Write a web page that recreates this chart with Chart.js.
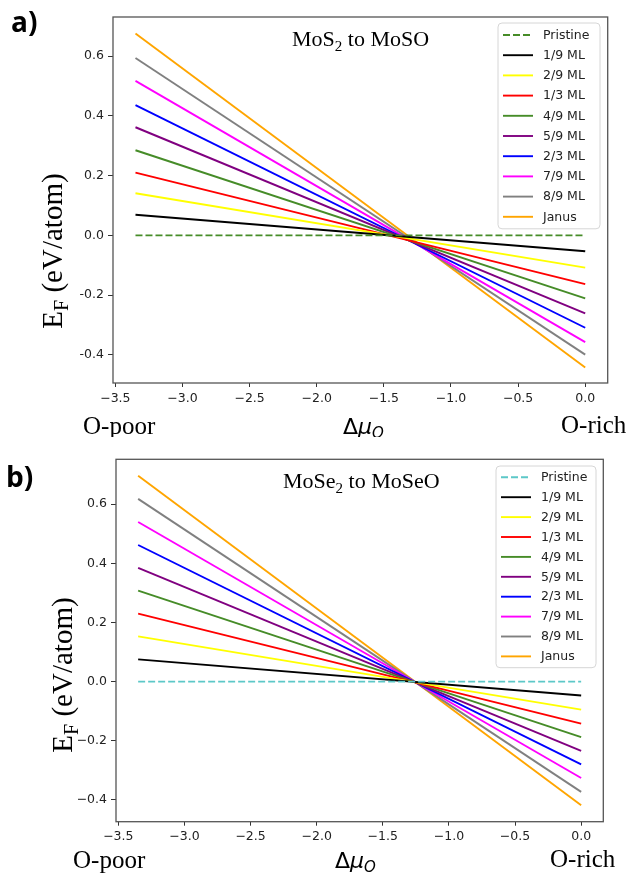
<!DOCTYPE html>
<html><head><meta charset="utf-8">
<script src="https://cdn.jsdelivr.net/npm/chart.js@4.4.1/dist/chart.umd.min.js"></script>
<style>
html,body{margin:0;padding:0;background:#fff;width:630px;height:874px;overflow:hidden}
canvas{position:absolute;left:0}
#ca{top:0}
#cb{top:437px}
</style></head><body>
<canvas id="ca" width="630" height="437"></canvas>
<canvas id="cb" width="630" height="437"></canvas>
<script>
// ---- data ----
const xValues = [-3.35, 0];
const seriesLabels = ['Pristine','1/9 ML','2/9 ML','1/3 ML','4/9 ML','5/9 ML','2/3 ML','7/9 ML','8/9 ML','Janus'];
const mos2Start  = [0, 0.069, 0.141, 0.210, 0.285, 0.362, 0.436, 0.517, 0.594, 0.676];
const mos2End    = [0, -0.053, -0.108, -0.163, -0.211, -0.261, -0.309, -0.357, -0.399, -0.442];
const mose2Start = [0, 0.075, 0.153, 0.230, 0.308, 0.385, 0.462, 0.540, 0.618, 0.696];
const mose2End   = [0, -0.047, -0.095, -0.142, -0.188, -0.234, -0.280, -0.326, -0.373, -0.418];
const xTicks = [-3.5, -3.0, -2.5, -2.0, -1.5, -1.0, -0.5, 0.0];
const xTickLabels = ['−3.5','−3.0','−2.5','−2.0','−1.5','−1.0','−0.5','0.0'];
const yTicks = [-0.4, -0.2, 0.0, 0.2, 0.4, 0.6];
const yTickLabelsA = ['-0.4','-0.2','0.0','0.2','0.4','0.6'];
const yTickLabelsB = ['−0.4','−0.2','0.0','0.2','0.4','0.6'];
const colorsA = ['#468c28','#000000','#ffff00','#ff0000','#468c28','#800080','#0000ff','#ff00ff','#808080','#ffa500'];
const colorsB = ['#5cc8c8','#000000','#ffff00','#ff0000','#468c28','#800080','#0000ff','#ff00ff','#808080','#ffa500'];

const SERIF = '"Liberation Serif", "DejaVu Serif", serif';
const SANS = '"DejaVu Sans", sans-serif';

function drawParts(ctx, parts, x, y, align) {
  let w = 0;
  parts.forEach(p => { ctx.font = p.f; p.w = ctx.measureText(p.t).width; w += p.w; });
  let cx = align === 'center' ? x - w / 2 : x;
  parts.forEach(p => { ctx.font = p.f; ctx.fillText(p.t, cx, y + (p.dy || 0)); cx += p.w; });
}

const decorPlugin = {
  id: 'decor',
  afterDatasetsDraw(chart, args, o) {
    const ctx = chart.ctx, ca = chart.chartArea;
    ctx.save();
    // frame
    ctx.strokeStyle = '#555'; ctx.lineWidth = 1.3; ctx.setLineDash([]);
    ctx.strokeRect(ca.left, ca.top, ca.right - ca.left, ca.bottom - ca.top);
    // legend
    const ds = chart.data.datasets;
    const bx = ca.right - o.legRight - o.legW, by = ca.top + o.legTop;
    const bh = o.legPad * 2 + (ds.length - 1) * o.legSp;
    ctx.beginPath();
    if (ctx.roundRect) ctx.roundRect(bx, by, o.legW, bh, 4); else ctx.rect(bx, by, o.legW, bh);
    ctx.fillStyle = 'rgba(255,255,255,0.85)'; ctx.fill();
    ctx.strokeStyle = '#d6d6d6'; ctx.lineWidth = 1; ctx.stroke();
    ctx.font = '12.5px ' + SANS; ctx.textBaseline = 'middle'; ctx.textAlign = 'left';
    ds.forEach((d, i) => {
      const yy = by + o.legPad + i * o.legSp;
      ctx.beginPath();
      ctx.setLineDash(d.borderDash || []);
      ctx.strokeStyle = d.borderColor; ctx.lineWidth = d.borderWidth;
      ctx.moveTo(bx + 5, yy); ctx.lineTo(bx + 35, yy); ctx.stroke();
      ctx.setLineDash([]);
      ctx.fillStyle = '#222';
      ctx.fillText(d.label, bx + 45, yy + 0.5);
    });
    // texts
    ctx.fillStyle = '#000'; ctx.textBaseline = 'alphabetic'; ctx.textAlign = 'left';
    ctx.font = 'bold 28px "Open Sans", ' + SANS;
    ctx.fillText(o.letter, o.letterX, o.letterY);
    drawParts(ctx, [
      {t: o.titleA, f: '22px ' + SERIF},
      {t: '2', f: '15px ' + SERIF, dy: 5},
      {t: o.titleB, f: '22px ' + SERIF}
    ], o.titleX, o.titleY, 'left');
    // y label
    ctx.save();
    ctx.translate(o.ylabX, o.ylabY);
    ctx.rotate(-Math.PI / 2);
    drawParts(ctx, [
      {t: 'E', f: '29px ' + SERIF},
      {t: 'F', f: '20px ' + SERIF, dy: 6},
      {t: ' (eV/atom)', f: '29px ' + SERIF}
    ], 0, 0, 'center');
    ctx.restore();
    // x row labels
    ctx.font = '25px ' + SERIF;
    ctx.fillText('O-poor', o.poorX, o.rowY);
    ctx.fillText('O-rich', o.richX, o.rowY - 1);
    drawParts(ctx, [
      {t: 'Δ', f: '22px ' + SANS},
      {t: 'μ', f: 'italic 22px ' + SANS},
      {t: 'O', f: 'italic 15px ' + SANS, dy: 4}
    ], o.muX, o.rowY, 'left');
    ctx.restore();
  }
};

function makeChart(id, start, end, colors, yLabels, geo, deco) {
  const datasets = seriesLabels.map((lab, i) => ({
    label: lab,
    data: xValues.map((x, j) => ({x: x, y: j === 0 ? start[i] : end[i]})),
    borderColor: colors[i],
    backgroundColor: colors[i],
    borderWidth: 1.9,
    borderDash: i === 0 ? [7, 3] : [],
    pointRadius: 0,
    fill: false,
    tension: 0
  }));
  return new Chart(document.getElementById(id), {
    type: 'line',
    data: {datasets},
    plugins: [decorPlugin],
    options: {
      responsive: false, animation: false, events: [],
      layout: {padding: {left: 0, top: geo.top, right: geo.right, bottom: 0}},
      plugins: {legend: {display: false}, tooltip: {enabled: false}, decor: deco},
      scales: {
        x: {
          type: 'linear', min: -3.5175, max: 0.1675,
          grid: {display: true, drawOnChartArea: false, drawTicks: true, tickLength: 4, color: '#333', tickWidth: 1},
          border: {display: false},
          ticks: {font: {family: SANS, size: 12.5}, color: '#222', padding: 4, maxRotation: 0, autoSkip: false,
                  callback: (v) => { const k = xTicks.indexOf(v); return k >= 0 ? xTickLabels[k] : ''; }},
          afterBuildTicks: s => { s.ticks = xTicks.map(v => ({value: v})); },
          afterFit: s => { s.height = geo.xh; }
        },
        y: {
          type: 'linear', min: geo.ymin, max: geo.ymax,
          grid: {display: true, drawOnChartArea: false, drawTicks: true, tickLength: 5, color: '#333', tickWidth: 1},
          border: {display: false},
          ticks: {font: {family: SANS, size: 12.5}, color: '#222', padding: 4, autoSkip: false,
                  callback: (v) => { const k = yTicks.indexOf(v); return k >= 0 ? yLabels[k] : ''; }},
          afterBuildTicks: s => { s.ticks = yTicks.map(v => ({value: v})); },
          afterFit: s => { s.width = geo.yw; }
        }
      }
    }
  });
}

makeChart('ca', mos2Start, mos2End, colorsA, yTickLabelsA,
  {top: 17, right: 22.3, xh: 54, yw: 113, ymin: -0.494, ymax: 0.731},
  {letter: 'a)', letterX: 11, letterY: 32, titleA: 'MoS', titleB: ' to MoSO', titleX: 292, titleY: 46,
   ylabX: 62, ylabY: 251, poorX: 83, richX: 561, muX: 343, rowY: 434,
   legW: 102, legRight: 7.7, legTop: 6, legPad: 12, legSp: 20.2});

makeChart('cb', mose2Start, mose2End, colorsB, yTickLabelsB,
  {top: 22.3, right: 26.7, xh: 52.3, yw: 116, ymin: -0.474, ymax: 0.752},
  {letter: 'b)', letterX: 6, letterY: 50, titleA: 'MoSe', titleB: ' to MoSeO', titleX: 283, titleY: 51,
   ylabX: 72, ylabY: 238, poorX: 73, richX: 550, muX: 335, rowY: 431,
   legW: 100, legRight: 7.3, legTop: 6.7, legPad: 11.3, legSp: 19.9});
</script>
</body></html>
